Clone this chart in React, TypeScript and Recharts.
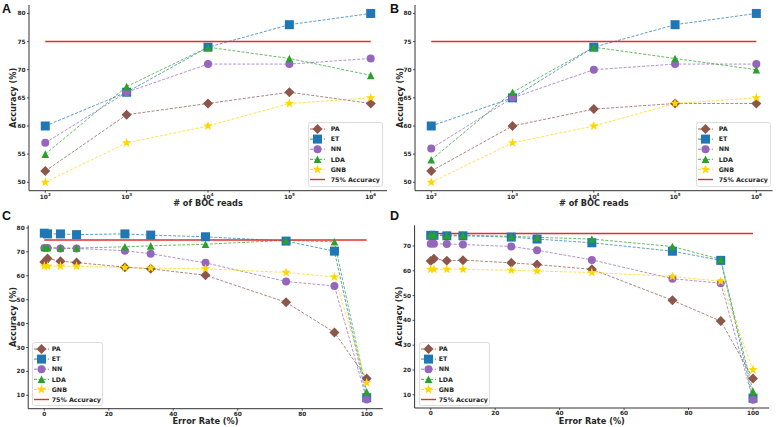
import React from "react";
import { LineChart, Line, XAxis, YAxis, Legend } from "recharts";

// x values
const BOC_READS = [100, 1000, 10000, 100000, 1000000];
const ERROR_RATES = [0, 1, 5, 10, 25, 33, 50, 75, 90, 100];
const TARGET_ACCURACY = 75;

// panel A
const A_PA = [52, 62, 64, 66, 64];
const A_ET = [60, 66, 74, 78, 80];
const A_NN = [57, 66, 71, 71, 72];
const A_LDA = [55, 67, 74, 72, 69];
const A_GNB = [50, 57, 60, 64, 65];

// panel B
const B_PA = [52, 60, 63, 64, 64];
const B_ET = [60, 65, 74, 78, 80];
const B_NN = [56, 65, 70, 71, 71];
const B_LDA = [54, 66, 74, 72, 70];
const B_GNB = [50, 57, 60, 64, 65];

// panel C
const C_PA = [65.8, 67.2, 66.1, 65.5, 63.6, 62.9, 60.2, 48.9, 36.3, 17];
const C_ET = [77.8, 77.5, 77.5, 77.2, 77.5, 77.0, 76.3, 74.5, 70.3, 9];
const C_NN = [71.6, 71.6, 71.4, 71.4, 70.5, 69.2, 65.4, 57.6, 55.7, 8.2];
const C_LDA = [71.8, 71.8, 71.6, 71.6, 72.1, 72.5, 73.2, 74.8, 74.2, 11.5];
const C_GNB = [64, 64, 64, 64, 63.4, 63.2, 62.9, 61.4, 59.5, 15.3];

// panel D
const D_PA = [63.9, 64.9, 64.0, 64.3, 63.2, 62.5, 60.6, 48.1, 39.7, 16.6];
const D_ET = [74.3, 74.3, 74.1, 74.1, 73.6, 72.8, 71.3, 67.9, 64.2, 8.6];
const D_NN = [70.9, 70.9, 70.8, 70.6, 69.8, 68.3, 64.4, 56.8, 55.0, 8.0];
const D_LDA = [74.6, 74.6, 74.4, 74.4, 73.9, 73.5, 72.8, 69.8, 64.6, 11.4];
const D_GNB = [60.6, 60.6, 60.6, 60.6, 60.2, 59.9, 59.3, 57.7, 55.8, 20.1];

const Y_TICKS_AB = [50, 55, 60, 65, 70, 75, 80];
const Y_TICKS_C = [10, 20, 30, 40, 50, 60, 70, 80];
const Y_TICKS_D = [10, 20, 30, 40, 50, 60, 70];
const X_TICKS_CD = [0, 20, 40, 60, 80, 100];

type Shape = "diamond" | "square" | "circle" | "triangle" | "star";

const SERIES: { key: string; color: string; shape: Shape }[] = [
  { key: "PA", color: "#8c564b", shape: "diamond" },
  { key: "ET", color: "#1f77b4", shape: "square" },
  { key: "NN", color: "#9467bd", shape: "circle" },
  { key: "LDA", color: "#2ca02c", shape: "triangle" },
  { key: "GNB", color: "#ffd700", shape: "star" },
];
const TARGET_COLOR = "#e0302e";
const INK = "#262626";
const FONT = "DejaVu Sans";

function buildRows(xs: number[], cols: number[][]) {
  return xs.map((x, i) => {
    const row: Record<string, number> = { x, target: TARGET_ACCURACY };
    SERIES.forEach((s, j) => {
      row[s.key] = cols[j][i];
    });
    return row;
  });
}

const ROWS_A = buildRows(BOC_READS, [A_PA, A_ET, A_NN, A_LDA, A_GNB]);
const ROWS_B = buildRows(BOC_READS, [B_PA, B_ET, B_NN, B_LDA, B_GNB]);
const ROWS_C = buildRows(ERROR_RATES, [C_PA, C_ET, C_NN, C_LDA, C_GNB]);
const ROWS_D = buildRows(ERROR_RATES, [D_PA, D_ET, D_NN, D_LDA, D_GNB]);

function Marker({ shape, cx, cy, color }: { shape: Shape; cx: number; cy: number; color: string }) {
  if (cx == null || cy == null) return null;
  if (shape === "diamond") {
    const r = 5;
    return <path d={`M${cx},${cy - r}L${cx + r},${cy}L${cx},${cy + r}L${cx - r},${cy}Z`} fill={color} />;
  }
  if (shape === "square") {
    const h = 4.5;
    return <rect x={cx - h} y={cy - h} width={h * 2} height={h * 2} fill={color} />;
  }
  if (shape === "circle") {
    return <circle cx={cx} cy={cy} r={4} fill={color} />;
  }
  if (shape === "triangle") {
    const r = 3.8;
    return <path d={`M${cx},${cy - r}L${cx + r},${cy + r}L${cx - r},${cy + r}Z`} fill={color} />;
  }
  // star
  const pts: string[] = [];
  for (let k = 0; k < 10; k++) {
    const rad = k % 2 === 0 ? 5 : 2;
    const a = -Math.PI / 2 + (k * Math.PI) / 5;
    pts.push(`${(cx + rad * Math.cos(a)).toFixed(2)},${(cy + rad * Math.sin(a)).toFixed(2)}`);
  }
  return <polygon points={pts.join(" ")} fill={color} />;
}

function LegendBox({ width, height, textX }: { width: number; height: number; textX: number }) {
  const rowY = (i: number) => 7 + i * 10.1;
  return (
    <svg width={width} height={height} style={{ display: "block", overflow: "visible" }}>
      <rect x={0.5} y={0.5} width={width - 1} height={height - 1} rx={2} fill="#ffffff" fillOpacity={0.85} stroke="#d4d4d4" strokeWidth={0.8} />
      {SERIES.map((s, i) => (
        <g key={s.key}>
          <line x1={2} x2={17} y1={rowY(i)} y2={rowY(i)} stroke={s.color} strokeWidth={0.9} strokeDasharray="3 1.6" />
          <Marker shape={s.shape} cx={9.5} cy={rowY(i)} color={s.color} />
          <text x={textX} y={rowY(i) + 2.2} fontSize={6.3} fontWeight="bold" fill={INK} fontFamily={FONT}>
            {s.key}
          </text>
        </g>
      ))}
      <line x1={2} x2={17} y1={rowY(5)} y2={rowY(5)} stroke={TARGET_COLOR} strokeWidth={1.4} />
      <text x={textX} y={rowY(5) + 2.2} fontSize={6.3} fontWeight="bold" fill={INK} fontFamily={FONT}>
        75% Accuracy
      </text>
    </svg>
  );
}

function PowerTick(props: any) {
  const { x, y, payload } = props;
  const exp = Math.round(Math.log10(payload.value));
  return (
    <text x={x} y={y + 4.8} textAnchor="middle" fontSize={5.8} fontWeight="bold" fill={INK} fontFamily={FONT}>
      10
      <tspan dy={-2.4} fontSize={4}>
        {exp}
      </tspan>
    </text>
  );
}

const tickStyle = { fontSize: 5.8, fontWeight: "bold" as const, fill: INK, fontFamily: FONT };

interface PanelProps {
  letter: string;
  left: number;
  top: number;
  width: number;
  height: number;
  margin: { top: number; right: number; bottom: number; left: number };
  xAxisHeight: number;
  rows: Record<string, number>[];
  log: boolean;
  xDomain: [number, number];
  xTicks: number[];
  yDomain: [number, number];
  yTicks: number[];
  xTitle: string;
  xTitleBaseline: number;
  yTitleX: number;
  letterBaseline: number;
  legend: { x: number; y: number; w: number; h: number; textX: number };
}

const Y_AXIS_W = 20;

function Panel(p: PanelProps) {
  const plotLeft = p.margin.left + Y_AXIS_W;
  const plotRight = p.width - p.margin.right;
  const plotTop = p.margin.top;
  const plotBottom = p.height - p.margin.bottom - p.xAxisHeight;
  return (
    <div style={{ position: "absolute", left: p.left, top: p.top, width: p.width, height: p.height }}>
      <LineChart width={p.width} height={p.height} data={p.rows} margin={p.margin}>
        <XAxis
          dataKey="x"
          type="number"
          scale={p.log ? "log" : "linear"}
          domain={p.xDomain}
          ticks={p.xTicks}
          interval={0}
          allowDataOverflow
          height={p.xAxisHeight}
          tickSize={2}
          tickMargin={1}
          stroke={INK}
          tickLine={{ stroke: INK, strokeWidth: 0.8 }}
          axisLine={{ stroke: "#333333", strokeWidth: 1 }}
          tick={p.log ? <PowerTick /> : tickStyle}
        />
        <YAxis
          type="number"
          domain={p.yDomain}
          ticks={p.yTicks}
          interval={0}
          allowDataOverflow
          width={Y_AXIS_W}
          tickSize={2}
          tickMargin={1.5}
          stroke={INK}
          tickLine={{ stroke: INK, strokeWidth: 0.8 }}
          axisLine={{ stroke: "#333333", strokeWidth: 1 }}
          tick={tickStyle}
        />
        {SERIES.map((s) => (
          <Line
            key={s.key}
            dataKey={s.key}
            name={s.key}
            type="linear"
            stroke={s.color}
            strokeOpacity={0.8}
            strokeWidth={0.9}
            strokeDasharray="3 1.6"
            isAnimationActive={false}
            dot={(d: any) => <Marker key={`${s.key}-${d.index}`} shape={s.shape} cx={d.cx} cy={d.cy} color={s.color} />}
            activeDot={false}
          />
        ))}
        <Line
          dataKey="target"
          name="75% Accuracy"
          type="linear"
          stroke={TARGET_COLOR}
          strokeWidth={1.5}
          dot={false}
          activeDot={false}
          isAnimationActive={false}
        />
        <Legend
          layout="horizontal"
          verticalAlign="middle"
          align="center"
          wrapperStyle={{ left: p.legend.x, top: p.legend.y, width: p.legend.w, height: p.legend.h, margin: 0, padding: 0 }}
          content={() => <LegendBox width={p.legend.w} height={p.legend.h} textX={p.legend.textX} />}
        />
      </LineChart>
      <svg
        width={p.width}
        height={p.height}
        style={{ position: "absolute", left: 0, top: 0, pointerEvents: "none", overflow: "visible" }}
      >
        <text x={2} y={p.letterBaseline} fontSize={12.5} fontWeight="bold" fill="#111" fontFamily="Liberation Sans">
          {p.letter}
        </text>
        <text
          x={(plotLeft + plotRight) / 2}
          y={p.xTitleBaseline}
          textAnchor="middle"
          fontSize={8.2}
          fontWeight="bold"
          fill={INK}
          fontFamily={FONT}
        >
          {p.xTitle}
        </text>
        <text
          transform={`translate(${p.yTitleX},${(plotTop + plotBottom) / 2}) rotate(-90)`}
          textAnchor="middle"
          fontSize={8.2}
          fontWeight="bold"
          fill={INK}
          fontFamily={FONT}
        >
          Accuracy (%)
        </text>
      </svg>
    </div>
  );
}

const LOG_DOMAIN: [number, number] = [Math.pow(10, 1.8), Math.pow(10, 6.2)];

export default function App() {
  return (
    <div style={{ position: "absolute", left: 0, top: 0, width: 777, height: 427, background: "#ffffff", overflow: "hidden" }}>
      <Panel
        letter="A"
        left={0}
        top={0}
        width={390}
        height={212}
        margin={{ top: 5, right: 3, bottom: 7.3, left: 9 }}
        xAxisHeight={14}
        rows={ROWS_A}
        log
        xDomain={LOG_DOMAIN}
        xTicks={BOC_READS}
        yDomain={[48.5, 81.5]}
        yTicks={Y_TICKS_AB}
        xTitle="# of BOC reads"
        xTitleBaseline={206}
        yTitleX={15.5}
        letterBaseline={12.7}
        legend={{ x: 308, y: 122, w: 75, h: 65, textX: 22.7 }}
      />
      <Panel
        letter="B"
        left={388}
        top={0}
        width={389}
        height={212}
        margin={{ top: 5, right: 4.4, bottom: 7.3, left: 7 }}
        xAxisHeight={14}
        rows={ROWS_B}
        log
        xDomain={LOG_DOMAIN}
        xTicks={BOC_READS}
        yDomain={[48.5, 81.5]}
        yTicks={Y_TICKS_AB}
        xTitle="# of BOC reads"
        xTitleBaseline={206}
        yTitleX={14.5}
        letterBaseline={12.7}
        legend={{ x: 308, y: 122, w: 75, h: 65, textX: 22.7 }}
      />
      <Panel
        letter="C"
        left={0}
        top={212}
        width={390}
        height={215}
        margin={{ top: 13.3, right: 7.2, bottom: 6.3, left: 8.2 }}
        xAxisHeight={12}
        rows={ROWS_C}
        log={false}
        xDomain={[-5, 105]}
        xTicks={X_TICKS_CD}
        yDomain={[4.4, 81.1]}
        yTicks={Y_TICKS_C}
        xTitle="Error Rate (%)"
        xTitleBaseline={212}
        yTitleX={15.8}
        letterBaseline={8.3}
        legend={{ x: 32, y: 130, w: 71, h: 64, textX: 19.7 }}
      />
      <Panel
        letter="D"
        left={388}
        top={212}
        width={389}
        height={215}
        margin={{ top: 13.3, right: 7.9, bottom: 7, left: 6.6 }}
        xAxisHeight={12}
        rows={ROWS_D}
        log={false}
        xDomain={[-5, 105]}
        xTicks={X_TICKS_CD}
        yDomain={[4.65, 78.35]}
        yTicks={Y_TICKS_D}
        xTitle="Error Rate (%)"
        xTitleBaseline={212}
        yTitleX={14.3}
        letterBaseline={8.3}
        legend={{ x: 31, y: 130, w: 71, h: 64, textX: 19.7 }}
      />
    </div>
  );
}
